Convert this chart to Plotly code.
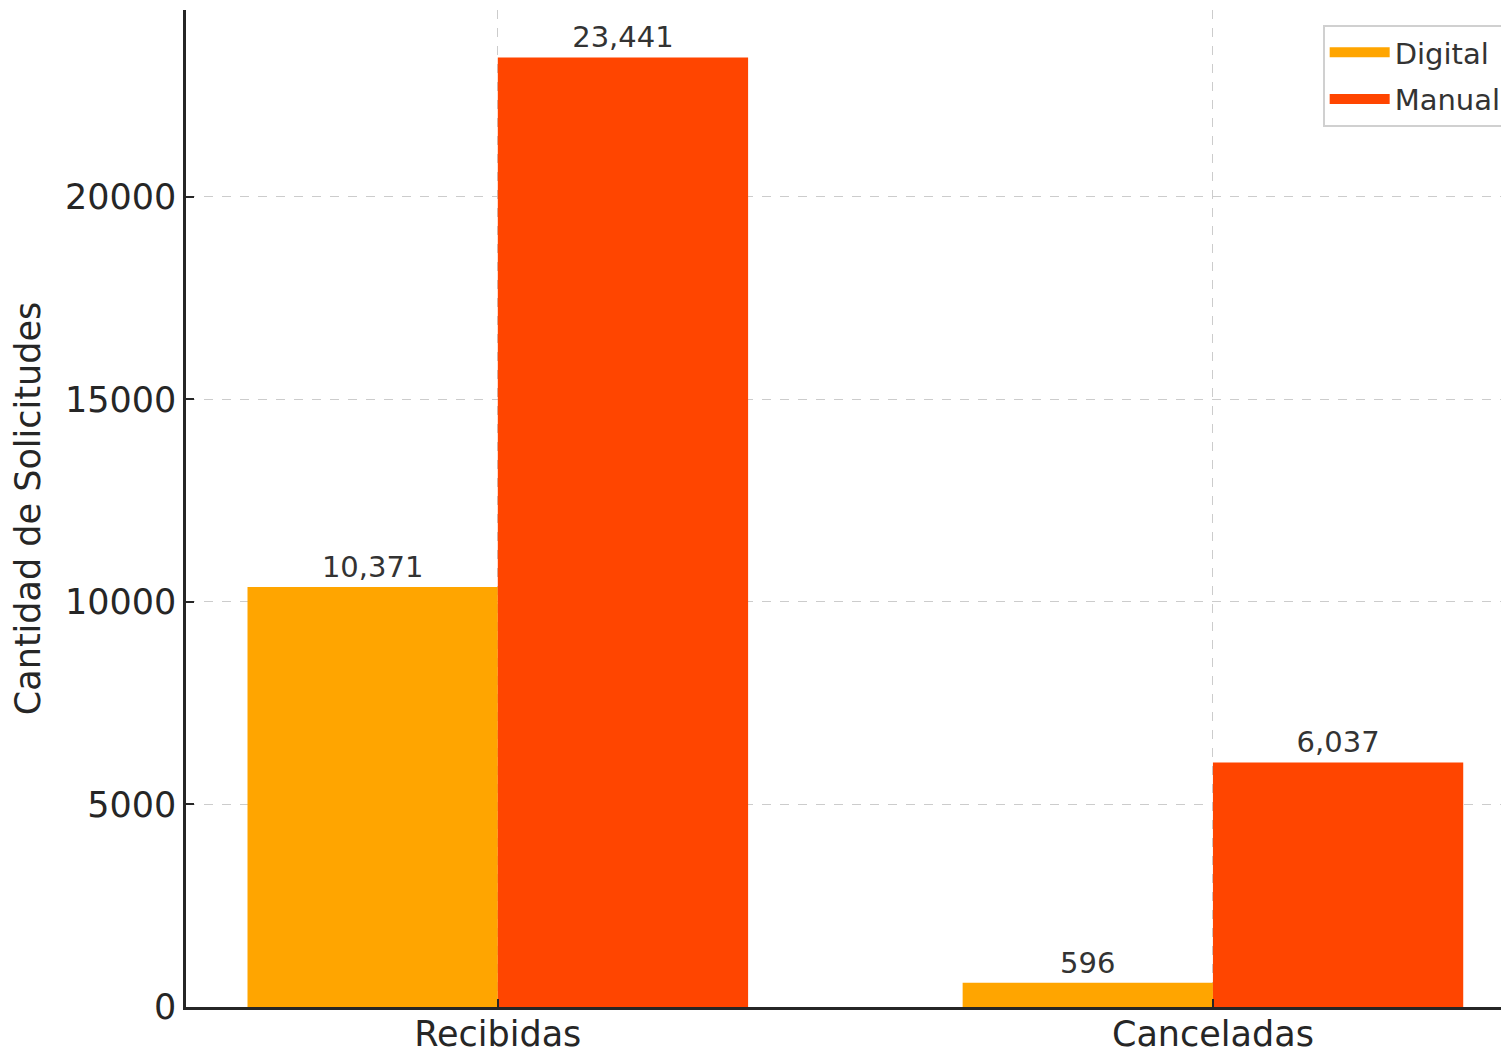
import plotly.graph_objects as go

categories = ["Recibidas", "Canceladas"]
digital = [10371, 596]
manual = [23441, 6037]
series_names = ["Digital", "Manual"]
y_ticks = [0, 5000, 10000, 15000, 20000]

colors = ["#FFA500", "#FF4500"]
font_family = "DejaVu Sans"

fig = go.Figure()
for name, vals, col in zip(series_names, [digital, manual], colors):
    fig.add_trace(go.Bar(
        x=categories, y=vals, name=name, marker=dict(color=col, line=dict(width=0)),
        text=[f"{v:,}" for v in vals], textposition="outside",
        textfont=dict(size=29, color="#333333", family=font_family),
        cliponaxis=False, showlegend=False,
    ))
# legend entries drawn as wide patches
for name, col in zip(series_names, colors):
    fig.add_trace(go.Scatter(
        x=[None], y=[None], mode="lines", name=name, legendgroup=name,
        line=dict(color=col, width=20), showlegend=True,
    ))

fig.update_layout(
    width=1501, height=1043,
    margin=dict(l=178, r=0, t=2, b=44, autoexpand=False),
    paper_bgcolor="white", plot_bgcolor="white",
    barmode="group", bargap=0.3, bargroupgap=0,
    font=dict(family=font_family, color="#262626"),
    showlegend=True,
    legend=dict(x=0.999, y=0.985, xanchor="right", yanchor="top",
                bgcolor="rgba(255,255,255,0.9)", bordercolor="#d0d0d0", borderwidth=2,
                font=dict(size=29, color="#333333", family=font_family),
                itemwidth=60, tracegroupgap=6),
)
fig.update_xaxes(
    range=[-0.436, 1.414], showline=True, linecolor="#262626", linewidth=2.5,
    showgrid=True, gridcolor="#cccccc", griddash="dash", gridwidth=1,
    ticks="inside", ticklen=8, tickwidth=1.5, tickcolor="#262626",
    tickfont=dict(size=35, color="#262626"), mirror=False, zeroline=False,
    automargin=False, ticklabelstandoff=-6,
)
fig.update_yaxes(
    range=[0, 24613], tickvals=y_ticks, ticktext=[str(v) for v in y_ticks],
    showline=True, linecolor="#262626", linewidth=2.5,
    showgrid=True, gridcolor="#cccccc", griddash="dash", gridwidth=1,
    ticks="inside", ticklen=8, tickwidth=1.5, tickcolor="#262626",
    tickfont=dict(size=35, color="#262626"), zeroline=False, automargin=False,
    title=dict(text="Cantidad de Solicitudes", font=dict(size=35, color="#262626"), standoff=14),
)
fig.write_html("out.html")
